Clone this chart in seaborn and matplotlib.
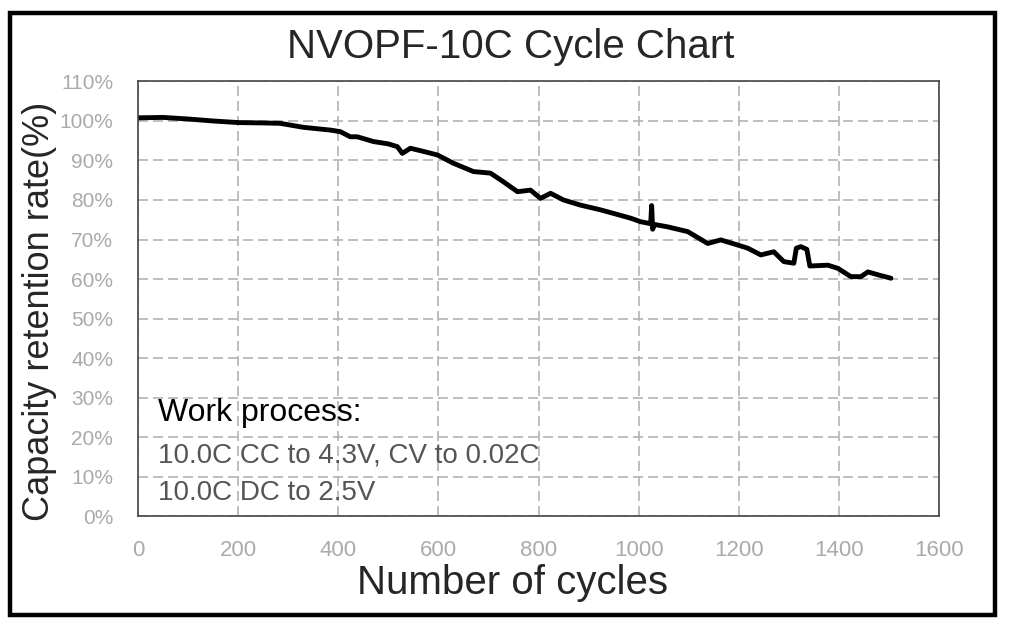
import numpy as np
import pandas as pd
import matplotlib
matplotlib.use("Agg")
import matplotlib.pyplot as plt
from matplotlib.patches import Rectangle
import seaborn as sns

# cycle data
cycles = [0, 50, 100, 150, 200, 250, 284, 330, 384, 404, 424, 438, 470, 500,
          518, 528, 544, 570, 598, 630, 670, 704, 730, 758, 784, 804, 824, 850,
          884, 924, 950, 984, 1004, 1024, 1026, 1028, 1032, 1058, 1098, 1138,
          1164, 1198, 1218, 1244, 1270, 1290, 1310, 1315, 1324, 1336, 1342,
          1378, 1398, 1424, 1444, 1458, 1480, 1504]
retention = [100.8, 100.9, 100.5, 100.0, 99.6, 99.5, 99.4, 98.4, 97.7, 97.3,
             96.0, 96.0, 94.8, 94.2, 93.5, 91.8, 93.1, 92.3, 91.4, 89.3, 87.2,
             86.8, 84.6, 82.1, 82.5, 80.4, 81.7, 80.0, 78.7, 77.5, 76.6, 75.4,
             74.5, 74.0, 78.6, 72.6, 73.8, 73.2, 72.0, 69.0, 69.9, 68.6, 67.8,
             66.1, 66.9, 64.4, 64.0, 67.8, 68.2, 67.5, 63.3, 63.5, 62.7, 60.6,
             60.6, 61.8, 61.0, 60.2]

x_ticks = [0, 200, 400, 600, 800, 1000, 1200, 1400, 1600]
y_ticks = [0, 10, 20, 30, 40, 50, 60, 70, 80, 90, 100, 110]

title = "NVOPF-10C Cycle Chart"
x_label = "Number of cycles"
y_label = "Capacity retention rate(%)"
notes = ["Work process:", "10.0C CC to 4.3V, CV to 0.02C", "10.0C DC to 2.5V"]

df = pd.DataFrame({"cycle": cycles, "retention": retention})

sns.set_style("white")
plt.rcParams["font.family"] = ["Liberation Sans", "DejaVu Sans"]

fig = plt.figure(figsize=(10.24, 6.34), dpi=100)
ax = fig.add_axes([0.1348, 0.186, 0.7822, 0.6855])

sns.lineplot(data=df, x="cycle", y="retention", color="black", linewidth=3.5,
             ax=ax, sort=False)

ax.set_xlim(0, 1600)
ax.set_ylim(0, 110)
ax.set_xticks(x_ticks)
ax.set_yticks(y_ticks)
ax.set_yticklabels([f"{v}%" for v in y_ticks])
ax.tick_params(axis="both", direction="in", length=6, width=1.2,
               colors="#333333", labelcolor="#aaaaaa", labelsize=15)
ax.tick_params(axis="y", pad=18)
ax.tick_params(axis="x", pad=17, labelsize=16)
ax.set_xlabel("")
ax.set_ylabel("")

ax.grid(True, color="#b3b3b3", linestyle=(0, (6, 3)), linewidth=1.2)
for s in ax.spines.values():
    s.set_visible(True)
    s.set_color("#444444")
    s.set_linewidth(1.2)

# annotation block
ax.text(40, 26.1, notes[0], fontsize=23, color="black", va="center")
ax.text(40, 15.4, notes[1], fontsize=20, color="#555555", va="center")
ax.text(40, 5.8, notes[2], fontsize=20, color="#555555", va="center")

fig.text(0.499, 0.926, title, fontsize=29, ha="center", va="center")
fig.text(0.501, 0.080, x_label, fontsize=29, ha="center", va="center")
fig.text(0.039, 0.509, y_label, fontsize=26, ha="center", va="center",
         rotation=90)

fig.patches.append(Rectangle((0.0098, 0.030), 0.962, 0.9495,
                             transform=fig.transFigure, fill=False,
                             edgecolor="black", linewidth=3.2))

fig.savefig("out.png", dpi=100)
